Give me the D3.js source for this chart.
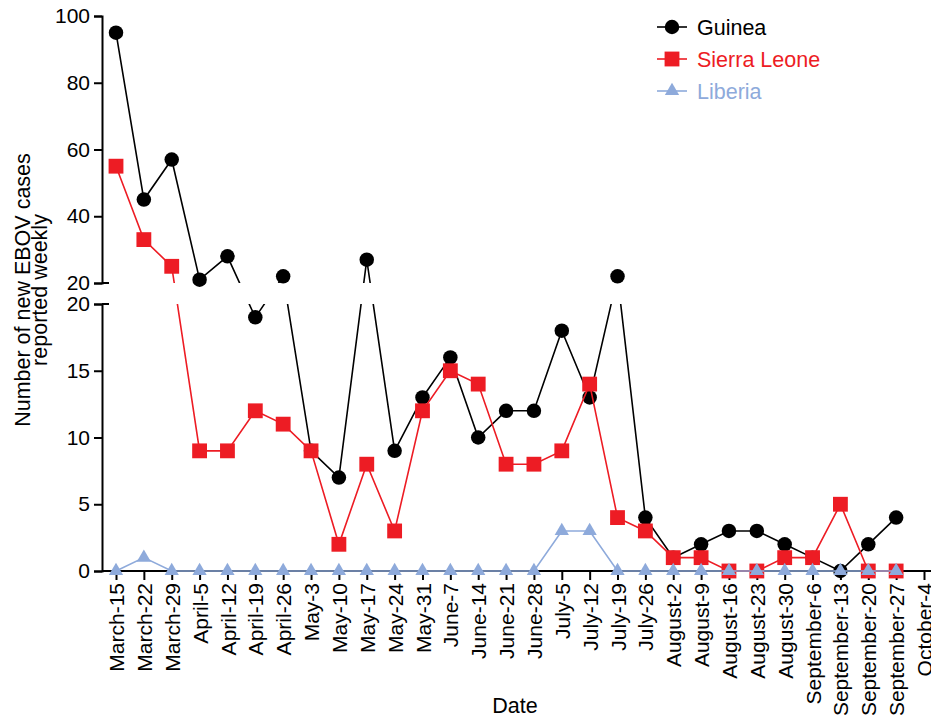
<!DOCTYPE html>
<html>
<head>
<meta charset="utf-8">
<script src="https://cdn.jsdelivr.net/npm/d3@7"></script>
<style>
  body { margin: 0; background: #fff; }
  svg { display: block; font-family: "Liberation Sans", Arial, sans-serif; }
</style>
</head>
<body>
<div id="chart"></div>
<script>
const dates = ["March-15", "March-22", "March-29", "April-5", "April-12", "April-19", "April-26",
    "May-3", "May-10", "May-17", "May-24", "May-31", "June-7", "June-14", "June-21", "June-28",
    "July-5", "July-12", "July-19", "July-26", "August-2", "August-9", "August-16", "August-23",
    "August-30", "September-6", "September-13", "September-20", "September-27", "October-4"];

const guinea = [95, 45, 57, 21, 28, 19, 22, 9, 7, 27, 9, 13, 16, 10, 12, 12, 18, 13, 22, 4, 1, 2, 3, 3, 2, 1, 0, 2, 4];
const sierraLeone = [55, 33, 25, 9, 9, 12, 11, 9, 2, 8, 3, 12, 15, 14, 8, 8, 9, 14, 4, 3, 1, 1, 0, 0, 1, 1, 5, 0, 0];
const liberia = [0, 1, 0, 0, 0, 0, 0, 0, 0, 0, 0, 0, 0, 0, 0, 0, 3, 3, 0, 0, 0, 0, 0, 0, 0, 0, 0, 0, 0];

const upperTicks = [20, 40, 60, 80, 100];
const lowerTicks = [0, 5, 10, 15, 20];

const width = 931, height = 719;
const axisX = 102;
const breakValue = 20;

const svg = d3.select('#chart')
    .append('svg')
    .attr('width', width)
    .attr('height', height);

const x = d3.scalePoint().domain(dates).range([116, 924]);
const yUp = d3.scaleLinear().domain([20, 100]).range([283, 16]);
const yLow = d3.scaleLinear().domain([0, 20]).range([571, 304]);

// broken axis: values above the break use the upper panel
const yPos = v => v > breakValue ? yUp(v) : yLow(v);

// lines are hidden inside the gap between the two panels
const clip = svg.append('defs').append('clipPath').attr('id', 'panels');
clip.append('rect').attr('x', 0).attr('y', 0).attr('width', width).attr('height', yUp(breakValue));
clip.append('rect').attr('x', 0).attr('y', yLow(breakValue)).attr('width', width).attr('height', height - yLow(breakValue));

const series = [
    {name: 'Guinea', values: guinea, color: '#000000', symbol: d3.symbolCircle, size: 165},
    {name: 'Sierra Leone', values: sierraLeone, color: '#ED1C24', symbol: d3.symbolSquare, size: 220},
    {name: 'Liberia', values: liberia, color: '#8EAADB', symbol: d3.symbolTriangle, size: 88}
];

// axes
const axisColor = '#000';
const xAxis = d3.axisBottom(x).tickSize(9).tickSizeOuter(0);
const xAxisG = svg.append('g')
    .attr('transform', `translate(0, ${yLow(0)})`)
    .call(xAxis);
xAxisG.select('.domain').attr('d', `M${axisX},0H${width}`);
xAxisG.selectAll('.tick text')
    .attr('transform', 'rotate(-90)')
    .attr('x', -12)
    .attr('y', 0)
    .attr('dy', '0.36em')
    .attr('text-anchor', 'end')
    .attr('font-size', 21);

const upAxisG = svg.append('g')
    .attr('transform', `translate(${axisX}, 0)`)
    .call(d3.axisLeft(yUp).tickValues(upperTicks).tickSize(8).tickPadding(4).tickSizeOuter(8));
const lowAxisG = svg.append('g')
    .attr('transform', `translate(${axisX}, 0)`)
    .call(d3.axisLeft(yLow).tickValues(lowerTicks).tickSize(8).tickPadding(4).tickSizeOuter(8));

[upAxisG, lowAxisG].forEach(g => {
    g.selectAll('.tick text').attr('font-size', 21);
});

// small caps to the right at the break
svg.append('path')
    .attr('d', `M${axisX},${yUp(breakValue)}h7M${axisX},${yLow(breakValue)}h7`)
    .attr('stroke', axisColor)
    .attr('stroke-width', 2);

svg.selectAll('.domain, .tick line')
    .attr('stroke', axisColor)
    .attr('stroke-width', 2);
svg.selectAll('.tick text').attr('fill', '#000');

// series
const line = d3.line()
    .x((d, i) => x(dates[i]))
    .y(d => yPos(d));

series.forEach(s => {
    const g = svg.append('g');
    g.append('path')
        .datum(s.values)
        .attr('d', line)
        .attr('fill', 'none')
        .attr('stroke', s.color)
        .attr('stroke-width', 1.6)
        .attr('clip-path', 'url(#panels)');
    g.selectAll('.mark')
        .data(s.values)
        .enter()
        .append('path')
        .attr('class', 'mark')
        .attr('d', d3.symbol().type(s.symbol).size(s.size))
        .attr('transform', (d, i) => `translate(${x(dates[i])}, ${yPos(d)})`)
        .attr('fill', s.color);
});

// legend
const legend = svg.append('g').attr('transform', 'translate(657, 27)');
const item = legend.selectAll('.item')
    .data(series)
    .enter()
    .append('g')
    .attr('class', 'item')
    .attr('transform', (d, i) => `translate(0, ${i * 32})`);
item.append('line')
    .attr('x1', 0).attr('x2', 30)
    .attr('stroke', d => d.color)
    .attr('stroke-width', 1.6);
item.append('path')
    .attr('d', d => d3.symbol().type(d.symbol).size(d.size)())
    .attr('transform', 'translate(15, 0)')
    .attr('fill', d => d.color);
item.append('text')
    .attr('x', 40)
    .attr('dy', '0.36em')
    .attr('font-size', 21.5)
    .attr('fill', d => d.color)
    .text(d => d.name);

// axis titles
svg.append('text')
    .attr('x', 515)
    .attr('y', 713)
    .attr('text-anchor', 'middle')
    .attr('font-size', 21.5)
    .text('Date');

const yTitle = svg.append('text')
    .attr('transform', 'translate(30, 290) rotate(-90)')
    .attr('text-anchor', 'middle')
    .attr('font-size', 21.5);
yTitle.append('tspan').attr('x', 0).attr('y', 0).text('Number of new EBOV cases');
yTitle.append('tspan').attr('x', 0).attr('y', 17).text('reported weekly');
</script>
</body>
</html>
